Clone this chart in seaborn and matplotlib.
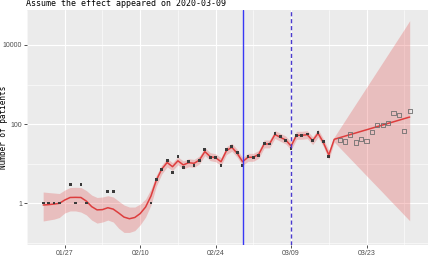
import numpy as np
import pandas as pd
import matplotlib
matplotlib.use("Agg")
import matplotlib.pyplot as plt
import matplotlib.dates as mdates
from matplotlib.ticker import FixedLocator, NullFormatter
import seaborn as sns

# ---------------- data ----------------
start_date = "2020-01-23"
n_days = 69
effect_date = "2020-02-29"
assumed_date = "2020-03-09"
title_text = "Assume the effect appeared on 2020-03-09"
ylabel_text = "Number of patients"

# observed daily counts (0 = not drawn on log scale)
observed_counts = [1, 1, 1, 1, 0, 3, 1, 3, 1, 0, 0, 0, 2, 2, 0, 0, 0, 0, 0, 0,
                   1, 4, 7, 12, 6, 15, 8, 11, 9, 12, 23, 14, 14, 9, 23, 27, 19, 9, 15, 14,
                   16, 32, 31, 58, 48, 39, 24, 52, 52, 56, 38, 60, 36, 15]
# counts after the cut (hollow squares), from day index 55
later_counts = [39, 36, 54, 34, 41, 37, 63, 93, 96, 104, 190, 172, 67, 217]
later_offset = 55

fit_values = [0.89, 0.91, 0.94, 0.98, 1.19, 1.38, 1.39, 1.38, 1.12, 0.81,
              0.67, 0.68, 0.76, 0.70, 0.56, 0.44, 0.40, 0.43, 0.54, 0.79,
              1.50, 3.8, 7.2, 10.6, 8.3, 11.7, 9.2, 10.5, 10.1, 12.3,
              20.0, 14.9, 14.0, 11.1, 21.1, 25.7, 18.1, 11.1, 14.4, 14.4,
              17.1, 31.2, 31.2, 54.2, 46.0, 39.4, 27.7, 51.8, 51.8, 53.6,
              37.8, 58.2, 33.7, 16.4,
              41.0, 45.0, 49.4, 54.2, 59.4, 65.2, 71.5, 78.4, 86.1, 94.4,
              103.6, 113.6, 124.7, 136.8, 150.1]
upper_values = [1.90, 1.84, 1.79, 1.74, 2.13, 2.47, 2.50, 2.47, 2.07, 1.59,
                1.38, 1.42, 1.53, 1.42, 1.12, 0.89, 0.79, 0.79, 0.94, 1.26,
                2.26, 5.1, 9.2, 13.4, 10.5, 14.7, 11.6, 13.2, 12.7, 15.5,
                25.2, 18.8, 17.6, 14.0, 26.6, 32.4, 22.8, 14.0, 18.1, 18.1,
                21.5, 39.3, 39.3, 68.3, 58.0, 49.6, 34.9, 65.3, 65.3, 67.5,
                47.6, 73.3, 42.5, 21.5,
                46.8, 75.9, 123, 200, 324, 525, 851, 1380, 2239, 3631,
                5888, 9550, 15488, 25119, 41210]
lower_values = [0.35, 0.37, 0.39, 0.43, 0.56, 0.63, 0.63, 0.59, 0.50, 0.37,
                0.31, 0.33, 0.37, 0.33, 0.23, 0.18, 0.18, 0.20, 0.28, 0.44,
                0.89, 2.69, 5.4, 8.2, 6.6, 9.3, 7.3, 8.3, 8.0, 9.8,
                15.9, 11.8, 11.1, 8.8, 16.8, 20.4, 14.4, 8.8, 11.4, 11.4,
                13.6, 24.8, 24.8, 43.0, 36.5, 31.3, 22.0, 41.1, 41.1, 42.6,
                30.0, 46.2, 26.8, 12.5,
                35.0, 25.2, 18.2, 13.1, 9.44, 6.81, 4.90, 3.53, 2.55, 1.84,
                1.32, 0.953, 0.687, 0.494, 0.356]

x_major = ["2020-01-27", "2020-02-10", "2020-02-24", "2020-03-09", "2020-03-23"]
x_minor = ["2020-01-20", "2020-02-03", "2020-02-17", "2020-03-02", "2020-03-16", "2020-03-30"]
y_major = [1, 100, 10000]
y_labels = ["1", "100", "10000"]
y_minor = [0.1, 10, 1000]

# ---------------- frames ----------------
dates = pd.date_range(start_date, periods=n_days, freq="D")
fit_df = pd.DataFrame({"date": dates, "fit": fit_values,
                       "lower": lower_values, "upper": upper_values})
obs_df = pd.DataFrame({"date": dates[:len(observed_counts)], "count": observed_counts})
obs_df = obs_df[obs_df["count"] > 0]
later_df = pd.DataFrame({"date": dates[later_offset:later_offset + len(later_counts)],
                         "count": later_counts})

# ---------------- style ----------------
sns.set_theme(style="darkgrid", rc={
    "axes.facecolor": "#EBEBEB",
    "grid.color": "white",
    "axes.edgecolor": "#EBEBEB",
})
plt.rcParams["font.family"] = ["DejaVu Sans"]

W, H = 431, 262
fig = plt.figure(figsize=(W / 100, H / 100), dpi=100)
ax = fig.add_axes([27 / W, 17 / H, 401 / W, 235 / H])
for s in ax.spines.values():
    s.set_visible(False)

line_red = "#DD3D3D"
ax.fill_between(fit_df["date"], fit_df["lower"], fit_df["upper"],
                color="#E34A4A", alpha=0.28, linewidth=0, zorder=2)
sns.lineplot(data=fit_df, x="date", y="fit", ax=ax, color=line_red,
             linewidth=1.1, estimator=None, zorder=3)
sns.scatterplot(data=obs_df, x="date", y="count", ax=ax, marker="s", s=4,
                color="#3A3A3A", edgecolor="none", linewidth=0, zorder=4)
sns.scatterplot(data=later_df, x="date", y="count", ax=ax, marker="s", s=9,
                facecolor="none", edgecolor="#6E6E6E", linewidth=0.6, zorder=4)

ax.axvline(pd.Timestamp(effect_date), color="#3838F5", linewidth=1.0, zorder=5)
ax.axvline(pd.Timestamp(assumed_date), color="#4A3ACF", linewidth=1.0,
           linestyle=(0, (3, 2)), zorder=5)

ax.set_yscale("log")
ax.set_ylim(10 ** -1.063, 10 ** 4.886)
ax.set_xlim(pd.Timestamp(start_date) - pd.Timedelta(days=3.0),
            pd.Timestamp(start_date) + pd.Timedelta(days=71.4))

ax.yaxis.set_major_locator(FixedLocator(y_major))
ax.set_yticklabels(y_labels)
ax.yaxis.set_minor_locator(FixedLocator(y_minor))
ax.yaxis.set_minor_formatter(NullFormatter())

ax.set_xticks([pd.Timestamp(d) for d in x_major])
ax.set_xticks([pd.Timestamp(d) for d in x_minor], minor=True)
ax.xaxis.set_major_formatter(mdates.DateFormatter("%m/%d"))
ax.xaxis.set_minor_formatter(NullFormatter())

ax.grid(which="major", color="white", linewidth=0.8)
ax.grid(which="minor", color="white", linewidth=0.4)
ax.tick_params(which="major", length=2, width=0.6, color="#333333", pad=1.5,
               labelsize=5, labelcolor="#4D4D4D", bottom=True, left=True)
ax.tick_params(which="minor", length=0)
for lab in ax.get_xticklabels() + ax.get_yticklabels():
    lab.set_fontfamily(["Liberation Sans Narrow", "Liberation Sans", "DejaVu Sans"])
ax.set_xlabel("")
ax.set_ylabel("")

fig.text(26 / W, 1 - 6.5 / H, title_text, family=["DejaVu Sans Mono"],
         fontsize=6, ha="left", va="baseline", color="black")
fig.text(3.5 / W, 1 - 127 / H, ylabel_text, family=["DejaVu Sans Mono"],
         fontsize=5.6, rotation=90, ha="center", va="center", color="black")

fig.savefig("out.png", dpi=100)
